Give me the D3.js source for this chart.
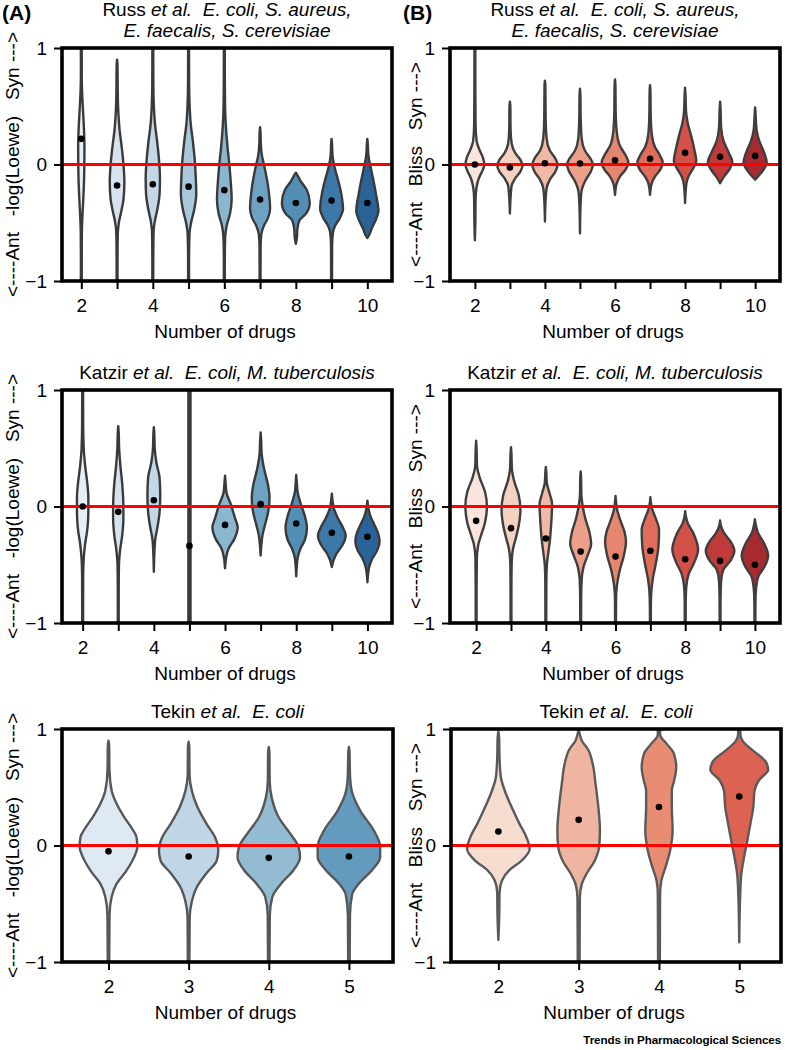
<!DOCTYPE html>
<html lang="en">
<head>
<meta charset="utf-8">
<title>Synergy of drug combinations</title>
<script src="https://d3js.org/d3.v7.min.js"></script>
<style>
  body { margin: 0; background: #fff; }
  svg text { font-family: "Liberation Sans", Arial, Helvetica, sans-serif; fill: #000; white-space: pre; }
</style>
</head>
<body>
<script>
// ---- data ----
// each violin: list of [score, half width as fraction of category step], top to bottom
const yTicks = [-1, 0, 1];
const drugs9 = [2, 3, 4, 5, 6, 7, 8, 9, 10];
const drugs4 = [2, 3, 4, 5];
const labels9 = [2, 4, 6, 8, 10];
const labels4 = [2, 3, 4, 5];

const loeweLabel = '<----Ant   -log(Loewe)   Syn --->';
const blissLabel = '<----Ant   Bliss   Syn --->';
const xLabel = 'Number of drugs';

const russTitle = [[['Russ ', 'normal'], ['et al.', 'italic'], ['  E. coli, S. aureus,', 'italic']],
                   [['E. faecalis, S. cerevisiae', 'italic']]];
const katzirTitle = [[['Katzir ', 'normal'], ['et al.', 'italic'], ['  E. coli, M. tuberculosis', 'italic']]];
const tekinTitle = [[['Tekin ', 'normal'], ['et al.', 'italic'], ['  E. coli', 'italic']]];

// Russ et al., -log(Loewe)
const russLoeweDots = [0.22, -0.18, -0.17, -0.19, -0.22, -0.30, -0.33, -0.31, -0.33];
const russLoeweShapes = [
  [[1.1,0.012],[0.75,0.012],[0.6,0.025],[0.45,0.05],[0.3,0.075],[0.15,0.088],[0,0.085],[-0.15,0.075],[-0.3,0.055],[-0.45,0.03],[-0.6,0.015],[-0.8,0.012],[-1.1,0.012]],
  [[0.9,0],[0.85,0.012],[0.6,0.02],[0.45,0.035],[0.3,0.07],[0.15,0.13],[0,0.18],[-0.15,0.205],[-0.3,0.18],[-0.4,0.12],[-0.5,0.05],[-0.6,0.02],[-0.8,0.013],[-1.1,0.012]],
  [[1.1,0.012],[0.7,0.015],[0.5,0.03],[0.35,0.06],[0.2,0.12],[0.05,0.17],[-0.12,0.2],[-0.25,0.19],[-0.38,0.13],[-0.48,0.06],[-0.58,0.022],[-0.8,0.013],[-1.1,0.012]],
  [[1.1,0.012],[0.7,0.015],[0.5,0.03],[0.35,0.06],[0.2,0.12],[0.05,0.17],[-0.1,0.2],[-0.25,0.215],[-0.4,0.15],[-0.5,0.07],[-0.6,0.025],[-0.8,0.013],[-1.1,0.012]],
  [[1.1,0.012],[0.7,0.015],[0.45,0.025],[0.3,0.05],[0.15,0.09],[0,0.14],[-0.15,0.18],[-0.3,0.205],[-0.42,0.16],[-0.52,0.07],[-0.62,0.025],[-0.8,0.013],[-1.1,0.012]],
  [[0.32,0],[0.28,0.012],[0.18,0.02],[0.08,0.05],[-0.03,0.13],[-0.2,0.23],[-0.38,0.28],[-0.46,0.22],[-0.53,0.1],[-0.6,0.035],[-0.7,0.015],[-1.1,0.012]],
  [[-0.07,0],[-0.09,0.04],[-0.14,0.13],[-0.22,0.31],[-0.33,0.39],[-0.42,0.29],[-0.48,0.1],[-0.55,0.045],[-0.63,0.03],[-0.68,0]],
  [[0.22,0],[0.18,0.012],[0.08,0.025],[-0.02,0.08],[-0.12,0.17],[-0.25,0.27],[-0.38,0.32],[-0.46,0.23],[-0.52,0.11],[-0.58,0.04],[-0.7,0.015],[-1.1,0.012]],
  [[0.22,0],[0.18,0.012],[0.08,0.03],[-0.02,0.09],[-0.12,0.16],[-0.25,0.24],[-0.4,0.31],[-0.48,0.23],[-0.55,0.12],[-0.6,0.06],[-0.63,0]]
];

// Russ et al., Bliss
const russBlissDots = [0.0, -0.026, 0.011, 0.009, 0.037, 0.049, 0.10, 0.066, 0.074];
const russBlissShapes = [
  [[1.1,0.012],[0.6,0.014],[0.35,0.02],[0.2,0.05],[0.12,0.14],[0.06,0.23],[0,0.27],[-0.05,0.22],[-0.12,0.11],[-0.2,0.045],[-0.3,0.02],[-0.5,0.014],[-0.65,0]],
  [[0.54,0],[0.5,0.012],[0.3,0.02],[0.18,0.05],[0.1,0.15],[0.04,0.3],[-0.01,0.36],[-0.06,0.3],[-0.12,0.15],[-0.18,0.05],[-0.28,0.02],[-0.42,0]],
  [[0.72,0],[0.68,0.012],[0.4,0.02],[0.22,0.05],[0.12,0.14],[0.05,0.3],[0,0.36],[-0.06,0.3],[-0.13,0.14],[-0.2,0.05],[-0.3,0.02],[-0.49,0]],
  [[0.65,0],[0.6,0.012],[0.4,0.02],[0.22,0.05],[0.12,0.14],[0.05,0.3],[0,0.37],[-0.06,0.31],[-0.14,0.15],[-0.22,0.05],[-0.32,0.02],[-0.59,0]],
  [[0.73,0],[0.68,0.012],[0.45,0.02],[0.28,0.05],[0.16,0.14],[0.08,0.3],[0.02,0.38],[-0.04,0.31],[-0.1,0.15],[-0.16,0.05],[-0.26,0]],
  [[0.68,0],[0.63,0.012],[0.42,0.02],[0.26,0.05],[0.15,0.14],[0.08,0.28],[0.02,0.36],[-0.04,0.3],[-0.1,0.15],[-0.16,0.05],[-0.26,0]],
  [[0.66,0],[0.6,0.012],[0.45,0.03],[0.35,0.08],[0.25,0.17],[0.12,0.27],[0.03,0.32],[-0.04,0.22],[-0.1,0.1],[-0.16,0.04],[-0.33,0]],
  [[0.54,0],[0.48,0.012],[0.32,0.03],[0.2,0.1],[0.1,0.25],[0.02,0.35],[-0.04,0.27],[-0.1,0.12],[-0.16,0]],
  [[0.49,0],[0.44,0.012],[0.3,0.04],[0.2,0.12],[0.1,0.26],[0.02,0.33],[-0.04,0.25],[-0.09,0.12],[-0.13,0]]
];

// Katzir et al., -log(Loewe)
const katzirLoeweDots = [0.0, -0.046, 0.054, -0.338, -0.158, 0.02, -0.146, -0.226, -0.26];
const katzirLoeweShapes = [
  [[1.1,0.012],[0.7,0.015],[0.5,0.03],[0.35,0.07],[0.2,0.13],[0.08,0.16],[-0.05,0.16],[-0.2,0.13],[-0.32,0.07],[-0.45,0.03],[-0.6,0.015],[-1.1,0.012]],
  [[0.69,0],[0.64,0.012],[0.5,0.025],[0.35,0.06],[0.2,0.11],[0.05,0.14],[-0.1,0.145],[-0.25,0.11],[-0.38,0.05],[-0.5,0.02],[-0.7,0.013],[-1.1,0.012]],
  [[0.68,0],[0.63,0.012],[0.5,0.025],[0.38,0.07],[0.25,0.16],[0.1,0.18],[-0.05,0.16],[-0.18,0.1],[-0.28,0.04],[-0.4,0.015],[-0.56,0]],
  [[1.1,0.03],[-1.1,0.03]],
  [[0.264,0],[0.22,0.012],[0.12,0.04],[0.02,0.16],[-0.1,0.28],[-0.18,0.355],[-0.28,0.26],[-0.36,0.1],[-0.44,0.03],[-0.53,0]],
  [[0.636,0],[0.58,0.012],[0.45,0.03],[0.32,0.1],[0.18,0.21],[0.07,0.25],[-0.05,0.21],[-0.16,0.12],[-0.25,0.05],[-0.33,0.02],[-0.42,0]],
  [[0.27,0],[0.22,0.012],[0.12,0.04],[0.03,0.12],[-0.08,0.24],[-0.18,0.3],[-0.28,0.25],[-0.36,0.12],[-0.44,0.04],[-0.6,0]],
  [[0.11,0],[0.06,0.015],[-0.02,0.06],[-0.1,0.17],[-0.18,0.31],[-0.25,0.39],[-0.33,0.3],[-0.4,0.14],[-0.46,0.05],[-0.52,0]],
  [[0.05,0],[0.0,0.02],[-0.08,0.08],[-0.16,0.2],[-0.24,0.31],[-0.3,0.34],[-0.38,0.27],[-0.45,0.13],[-0.52,0.05],[-0.65,0]]
];

// Katzir et al., Bliss
const katzirBlissDots = [-0.123, -0.186, -0.275, -0.387, -0.43, -0.38, -0.453, -0.467, -0.50];
const katzirBlissShapes = [
  [[0.565,0],[0.5,0.012],[0.35,0.025],[0.25,0.1],[0.12,0.26],[0.0,0.31],[-0.13,0.26],[-0.25,0.14],[-0.33,0.06],[-0.45,0.02],[-0.7,0.013],[-1.1,0.012]],
  [[0.51,0],[0.46,0.012],[0.33,0.025],[0.22,0.09],[0.1,0.22],[-0.03,0.27],[-0.15,0.23],[-0.27,0.14],[-0.36,0.06],[-0.48,0.02],[-0.7,0.013],[-1.1,0.012]],
  [[0.34,0],[0.3,0.012],[0.2,0.03],[0.12,0.1],[0.02,0.18],[-0.12,0.16],[-0.28,0.12],[-0.4,0.07],[-0.5,0.03],[-0.65,0.015],[-1.1,0.012]],
  [[0.3,0],[0.25,0.012],[0.1,0.02],[0.02,0.05],[-0.1,0.13],[-0.22,0.25],[-0.32,0.3],[-0.42,0.2],[-0.52,0.08],[-0.62,0.03],[-0.8,0.014],[-1.1,0.012]],
  [[0.09,0],[0.05,0.012],[-0.02,0.04],[-0.12,0.14],[-0.22,0.26],[-0.3,0.3],[-0.42,0.24],[-0.55,0.12],[-0.68,0.04],[-0.8,0.015],[-1.1,0.012]],
  [[0.08,0],[0.04,0.012],[-0.02,0.05],[-0.1,0.15],[-0.2,0.25],[-0.35,0.23],[-0.5,0.15],[-0.62,0.07],[-0.72,0.03],[-0.85,0.014],[-1.1,0.012]],
  [[-0.04,0],[-0.08,0.015],[-0.14,0.07],[-0.24,0.25],[-0.37,0.37],[-0.48,0.26],[-0.58,0.1],[-0.68,0.035],[-0.8,0.015],[-1.1,0.012]],
  [[-0.12,0],[-0.16,0.02],[-0.22,0.1],[-0.3,0.3],[-0.38,0.41],[-0.46,0.31],[-0.54,0.1],[-0.64,0.03],[-0.8,0.014],[-1.1,0.012]],
  [[-0.11,0],[-0.15,0.02],[-0.22,0.08],[-0.32,0.27],[-0.42,0.38],[-0.52,0.27],[-0.6,0.1],[-0.7,0.035],[-0.82,0.015],[-1.1,0.012]]
];

// Tekin et al., -log(Loewe)
const tekinLoeweDots = [-0.05, -0.094, -0.106, -0.094];
const tekinLoeweShapes = [
  [[0.9,0],[0.86,0.008],[0.65,0.012],[0.47,0.04],[0.36,0.1],[0.24,0.2],[0.16,0.28],[0.07,0.35],[-0.01,0.36],[-0.1,0.32],[-0.22,0.22],[-0.33,0.1],[-0.44,0.04],[-0.6,0.013],[-1.1,0.009]],
  [[0.89,0],[0.85,0.008],[0.6,0.012],[0.47,0.04],[0.33,0.11],[0.19,0.22],[0.07,0.33],[-0.04,0.37],[-0.13,0.35],[-0.24,0.22],[-0.36,0.1],[-0.48,0.04],[-0.62,0.013],[-1.1,0.009]],
  [[0.845,0],[0.8,0.008],[0.55,0.012],[0.4,0.04],[0.24,0.125],[0.1,0.27],[-0.01,0.37],[-0.1,0.39],[-0.21,0.31],[-0.33,0.15],[-0.44,0.045],[-0.6,0.013],[-1.1,0.009]],
  [[0.845,0],[0.8,0.008],[0.6,0.014],[0.47,0.035],[0.3,0.14],[0.13,0.31],[-0.01,0.39],[-0.1,0.39],[-0.21,0.29],[-0.33,0.12],[-0.42,0.04],[-0.6,0.013],[-1.1,0.009]]
];

// Tekin et al., Bliss
const tekinBlissDots = [0.12, 0.22, 0.33, 0.42];
const tekinBlissShapes = [
  [[0.98,0],[0.92,0.01],[0.76,0.014],[0.59,0.03],[0.47,0.08],[0.33,0.165],[0.19,0.26],[0.07,0.35],[-0.03,0.39],[-0.13,0.29],[-0.21,0.14],[-0.3,0.045],[-0.4,0.015],[-0.6,0.011],[-0.81,0]],
  [[1.0,0],[0.96,0.012],[0.9,0.04],[0.82,0.12],[0.7,0.175],[0.53,0.21],[0.33,0.245],[0.13,0.265],[-0.01,0.255],[-0.13,0.2],[-0.24,0.1],[-0.33,0.04],[-0.45,0.015],[-1.1,0.011]],
  [[1.1,0.01],[0.95,0.015],[0.87,0.1],[0.79,0.185],[0.67,0.215],[0.56,0.19],[0.47,0.16],[0.33,0.16],[0.13,0.17],[-0.04,0.14],[-0.19,0.08],[-0.3,0.03],[-0.42,0.014],[-1.1,0.011]],
  [[1.1,0.01],[0.95,0.015],[0.9,0.04],[0.82,0.16],[0.72,0.33],[0.65,0.36],[0.56,0.245],[0.47,0.19],[0.33,0.175],[0.19,0.14],[0.04,0.1],[-0.1,0.06],[-0.24,0.027],[-0.4,0.013],[-0.83,0]]
];

// ---- layout ----
const W = 785, H = 1050;
const font = 19;

const panels = [
  { id: 'a1', left: 62, right: 392, top: 48, bottom: 281, xDomain: [1.46, 10.69], drugs: drugs9, labels: labels9,
    dots: russLoeweDots, shapes: russLoeweShapes, title: russTitle, ylabel: loeweLabel, ylabelX: 18.5, cmap: d3.interpolateBlues, pal: [0.1, 0.8] },
  { id: 'b1', left: 450, right: 780, top: 48, bottom: 281, xDomain: [1.29, 10.71], drugs: drugs9, labels: labels9,
    dots: russBlissDots, shapes: russBlissShapes, title: russTitle, ylabel: blissLabel, ylabelX: 422, cmap: d3.interpolateReds, pal: [0.1, 0.8] },
  { id: 'a2', left: 62, right: 392, top: 390, bottom: 623, xDomain: [1.42, 10.69], drugs: drugs9, labels: labels9,
    dots: katzirLoeweDots, shapes: katzirLoeweShapes, title: katzirTitle, ylabel: loeweLabel, ylabelX: 18.5, cmap: d3.interpolateBlues, pal: [0.1, 0.8] },
  { id: 'b2', left: 450, right: 780, top: 390, bottom: 623, xDomain: [1.25, 10.72], drugs: drugs9, labels: labels9,
    dots: katzirBlissDots, shapes: katzirBlissShapes, title: katzirTitle, ylabel: blissLabel, ylabelX: 422, cmap: d3.interpolateReds, pal: [0.1, 0.8] },
  { id: 'a3', left: 62, right: 393, top: 729, bottom: 962, xDomain: [1.42, 5.55], drugs: drugs4, labels: labels4,
    dots: tekinLoeweDots, shapes: tekinLoeweShapes, title: tekinTitle, ylabel: loeweLabel, ylabelX: 19, cmap: d3.interpolateBlues, pal: [0.143, 0.571] },
  { id: 'b3', left: 451, right: 781, top: 729, bottom: 962, xDomain: [1.41, 5.52], drugs: drugs4, labels: labels4,
    dots: tekinBlissDots, shapes: tekinBlissShapes, title: tekinTitle, ylabel: blissLabel, ylabelX: 422, cmap: d3.interpolateReds, pal: [0.143, 0.571] }
];

// seaborn-like sequential palette, desaturated to 0.75
function palette(cmap, range, count) {
  const t = d3.scaleLinear().domain([0, count - 1]).range(range);
  return d3.range(count).map(i => {
    const c = d3.hsl(cmap(t(i)));
    c.s *= 0.75;
    return c.formatHex();
  });
}
function lineGray(cols) {
  const lum = d3.min(cols, c => d3.hsl(c).l) * 0.6 * 255;
  return d3.rgb(lum, lum, lum).formatHex();
}

const svg = d3.select('body').append('svg')
  .attr('width', W)
  .attr('height', H);

panels.forEach(p => drawPanel(p));

function drawPanel(p) {
  const x = d3.scaleLinear().domain(p.xDomain).range([p.left, p.right]);
  const y = d3.scaleLinear().domain([-1, 1]).range([p.bottom, p.top]);
  const step = x(1) - x(0);
  const cols = palette(p.cmap, p.pal, p.drugs.length);
  const gray = lineGray(cols);
  const g = svg.append('g');

  svg.append('clipPath').attr('id', 'clip-' + p.id)
    .append('rect')
    .attr('x', p.left).attr('y', p.top)
    .attr('width', p.right - p.left).attr('height', p.bottom - p.top);

  const vg = g.append('g').attr('clip-path', `url(#clip-${p.id})`);
  p.drugs.forEach((d, i) => {
    const area = d3.area()
      .curve(d3.curveMonotoneY)
      .y(v => y(v[0]))
      .x0(v => x(d) - v[1] * step)
      .x1(v => x(d) + v[1] * step);
    vg.append('path')
      .attr('d', area(p.shapes[i]))
      .attr('fill', cols[i])
      .attr('stroke', gray)
      .attr('stroke-width', 2.4)
      .attr('stroke-linejoin', 'round');
  });

  // zero line
  g.append('line')
    .attr('x1', p.left).attr('x2', p.right)
    .attr('y1', y(0)).attr('y2', y(0))
    .attr('stroke', '#ff0000')
    .attr('stroke-width', 2.8);

  g.selectAll('circle.dot')
    .data(p.drugs)
    .join('circle')
    .attr('class', 'dot')
    .attr('cx', d => x(d))
    .attr('cy', (d, i) => y(p.dots[i]))
    .attr('r', 3.3)
    .attr('fill', '#000');

  // axes
  const xAxis = d3.axisBottom(x)
    .tickValues(p.drugs)
    .tickSize(8)
    .tickPadding(10)
    .tickFormat(d => p.labels.includes(d) ? d : '');
  const gx = g.append('g')
    .attr('transform', `translate(0,${p.bottom})`)
    .call(xAxis);
  const yAxis = d3.axisLeft(y)
    .tickValues(yTicks)
    .tickSize(8)
    .tickPadding(7)
    .tickFormat(d3.format('d'));
  const gy = g.append('g')
    .attr('transform', `translate(${p.left},0)`)
    .call(yAxis);
  [gx, gy].forEach(a => {
    a.select('.domain').remove();
    a.selectAll('.tick line').attr('stroke', '#000').attr('stroke-width', 2);
    a.selectAll('.tick text').attr('font-size', font).attr('font-family', null);
    a.attr('font-family', null).attr('font-size', null);
  });

  // frame
  g.append('rect')
    .attr('x', p.left).attr('y', p.top)
    .attr('width', p.right - p.left).attr('height', p.bottom - p.top)
    .attr('fill', 'none')
    .attr('stroke', '#000')
    .attr('stroke-width', 3.6);

  const cx = (p.left + p.right) / 2;

  // title
  p.title.forEach((line, li) => {
    const t = g.append('text')
      .attr('x', cx)
      .attr('y', p.top - 11 - (p.title.length - 1 - li) * 21)
      .attr('text-anchor', 'middle')
      .attr('font-size', font);
    line.forEach(part => t.append('tspan').attr('font-style', part[1]).text(part[0]));
  });

  g.append('text')
    .attr('x', cx - 2)
    .attr('y', p.bottom + 57)
    .attr('text-anchor', 'middle')
    .attr('font-size', font)
    .text(xLabel);

  g.append('text')
    .attr('transform', `translate(${p.ylabelX},${(p.top + p.bottom) / 2}) rotate(-90)`)
    .attr('text-anchor', 'middle')
    .attr('font-size', font)
    .text(p.ylabel);
}

svg.append('text').attr('x', 2).attr('y', 20)
  .attr('font-size', 21).attr('font-weight', 'bold').text('(A)');
svg.append('text').attr('x', 403).attr('y', 20)
  .attr('font-size', 21).attr('font-weight', 'bold').text('(B)');

svg.append('text')
  .attr('x', 781).attr('y', 1044)
  .attr('text-anchor', 'end')
  .attr('font-size', 11.6)
  .attr('font-weight', 'bold')
  .attr('letter-spacing', -0.1)
  .text('Trends in Pharmacological Sciences');
</script>
</body>
</html>
